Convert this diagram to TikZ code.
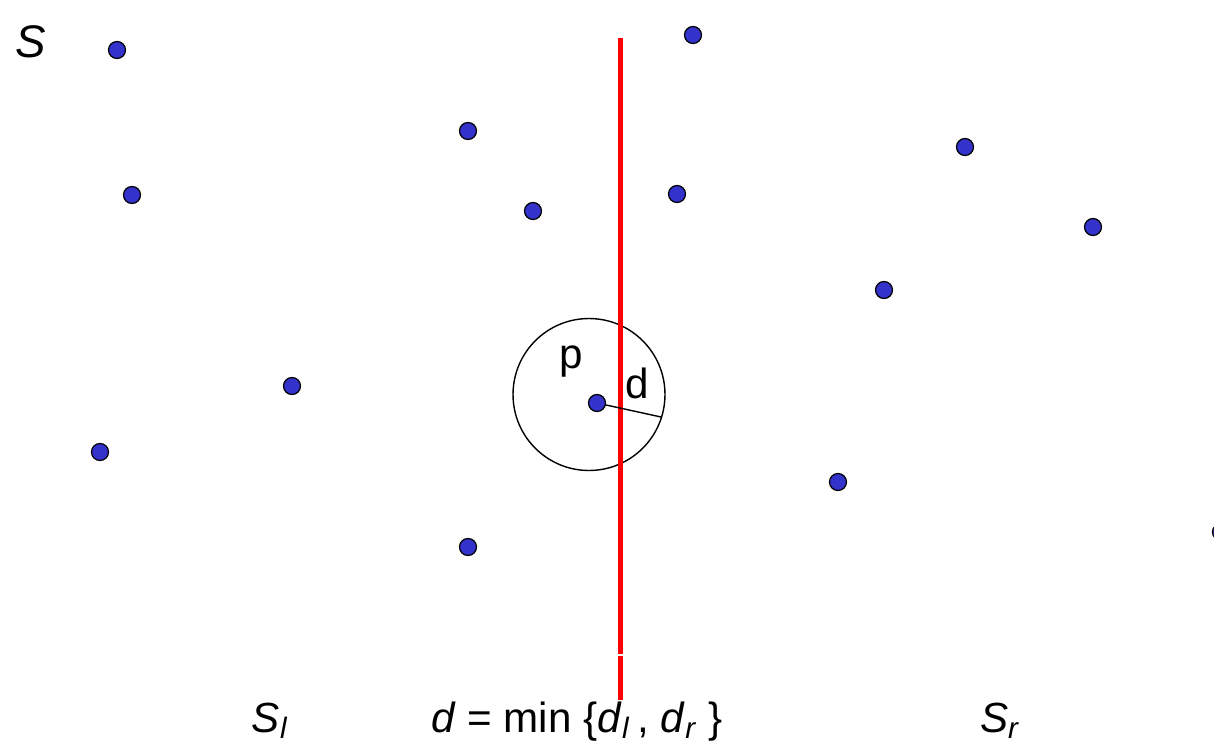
\documentclass[tikz,border=0pt]{standalone}
\usepackage{fontspec}
\setmainfont{Liberation Sans}

\begin{document}
\begin{tikzpicture}[x=0.02cm, y=-0.02cm]
    % Define colours
    \definecolor{pointColour}{RGB}{51,51,204}
    \definecolor{splitColour}{HTML}{FF0000}

    % Define styles
    \tikzset{
        dot/.style={circle, draw=black, fill=pointColour, line width=0.7pt, inner sep=0pt, minimum size=0.34cm},
        label/.style={anchor=base, inner sep=0pt, font=\fontsize{24}{28}\selectfont}
    }

    % Fix the page size
    \useasboundingbox (0,0) rectangle (1214,744);

    % Draw the points of S
    \foreach \x/\y [count=\i] in {117/50, 693/35, 468/131, 965/147, 132/195, 533/211, 677/194,
        1093/227, 884/290, 292/386, 100/452, 838/482, 468/547, 1221/532}
        \node[dot] (pt\i) at (\x,\y) {};

    % Draw the circle of radius d round p
    \node[circle, draw=black, line width=0.8pt, minimum size=3.04cm, inner sep=0pt] (ring) at (589,394.5) {};

    % Draw the dividing line
    \coordinate (top) at (620.5,38);
    \coordinate (gapA) at (620.5,653.5);
    \coordinate (gapB) at (620.5,655.5);
    \coordinate (bottom) at (620.5,700);
    \draw[splitColour, line width=0.1cm] (top) -- (gapA);
    \draw[splitColour, line width=0.1cm] (gapB) -- (bottom);

    % Draw the point p and its radius
    \coordinate (rim) at (661,417);
    \draw[line width=0.8pt] (597,403) -- (rim);
    \node[dot] (p) at (597,403) {};

    \node[label] (plabel) at (571,368) {p};
    \node[label] (dlabel) at (637,398) {d};

    % Label the sets
    \node[label, font=\fontsize{26}{30}\selectfont] (S) at (31,57) {\textit{S}};
    \node[label] (Sl) at (270,732) {\textit{S}\textsubscript{\textit{l}}};
    \node[label] (Sr) at (1000,732) {\textit{S}\textsubscript{\textit{r}}};
    \node[label] (dmin) at (577,732) {\textit{d} = min \{\textit{d}\textsubscript{\textit{l}}\,, \textit{d}\textsubscript{\textit{r}} \}};

\end{tikzpicture}
\end{document}
